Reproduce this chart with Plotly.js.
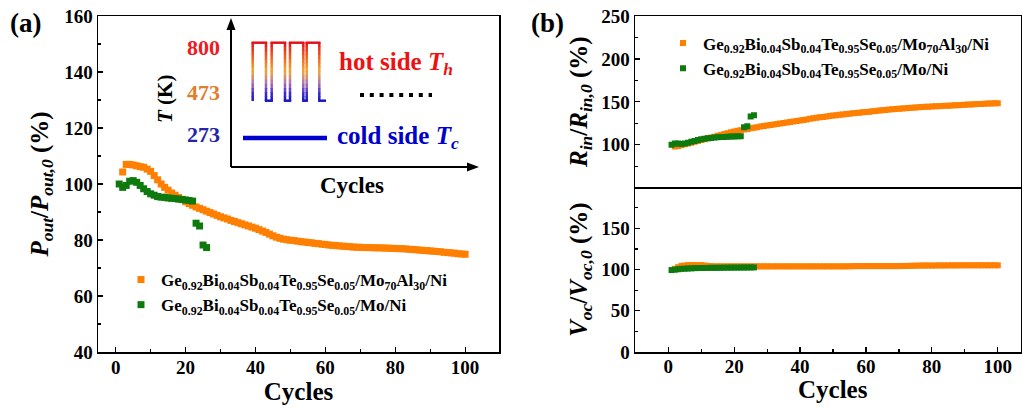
<!DOCTYPE html>
<html><head><meta charset="utf-8">
<script src="https://cdn.plot.ly/plotly-3.0.1.min.js"></script>
<style>html,body{margin:0;padding:0;background:#fff}#chart{width:1022px;height:410px}</style>
</head><body><div id="chart"></div>
<script>
// ---------- data ----------
const cyclesOrange = [2,3,4,5,6,7,8,9,10,11,12,13,14,15,16,17,18,19,20,21,22,23,24,25,26,27,28,29,30,31,32,33,34,35,36,37,38,39,40,41,42,43,44,45,46,47,48,49,50,51,52,53,54,55,56,57,58,59,60,61,62,63,64,65,66,67,68,69,70,71,72,73,74,75,76,77,78,79,80,81,82,83,84,85,86,87,88,89,90,91,92,93,94,95,96,97,98,99,100];
const cyclesGreen = [1,2,3,4,5,6,7,8,9,10,11,12,13,14,15,16,17,18,19,20,21,22,23,24,25,26];

// (a) P_out / P_out,0 (%)
const poutOrange = [104.3,107,107,106.8,106.5,106.2,106,105.3,104.5,103,101.5,100,98.8,97.8,96.8,96,95.2,94.4,93.7,93,92.4,91.8,91.3,90.8,90.3,89.8,89.3,88.8,88.3,87.9,87.5,87,86.6,86.2,85.8,85.4,85,84.6,84.2,83.7,83.2,82.7,82.1,81.5,81,80.6,80.3,80.1,79.9,79.8,79.6,79.4,79.3,79.1,79,78.8,78.7,78.5,78.4,78.2,78.1,78,77.9,77.8,77.7,77.6,77.5,77.4,77.4,77.3,77.3,77.3,77.2,77.2,77.2,77.1,77.1,77,77,76.9,76.9,76.8,76.7,76.6,76.5,76.4,76.3,76.2,76.1,76,75.9,75.8,75.6,75.5,75.4,75.3,75.1,75,74.9];
const poutGreen = [100,98.8,99.5,101,101.2,100.6,99.5,98.3,97.3,96.5,96,95.5,95.3,95.2,95,94.9,94.8,94.6,94.5,94.3,94.1,93.9,86,85,78.2,77.3];

// (b) R_in / R_in,0 (%)
const rinOrange = [98,98.5,99.5,100.5,101.5,102.5,103.5,104.5,105.5,106.5,107.5,108.5,109.5,110.5,111.5,112.5,113.5,114.5,115.5,116.3,117,117.8,118.5,119.2,119.9,120.5,121.2,121.8,122.5,123,123.6,124.2,124.8,125.4,126,126.6,127.2,127.8,128.4,129,129.6,130.2,130.8,131.4,132,132.5,133,133.5,134,134.5,135,135.4,135.8,136.2,136.6,137,137.4,137.8,138.2,138.6,139,139.4,139.8,140.2,140.6,141,141.3,141.6,141.9,142.2,142.5,142.8,143.1,143.4,143.7,144,144.2,144.4,144.6,144.8,145,145.2,145.4,145.6,145.8,146,146.2,146.4,146.6,146.8,147,147.2,147.4,147.6,147.8,148,148.2,148.3,148.5];
const rinGreen = [100,101.5,101.5,101,101.5,102.5,103.5,104.5,105.5,106.5,107,107.5,108,108.5,108.8,109,109.2,109.4,109.6,109.8,110,110,120.5,121.5,133,134.5];

// (b) V_oc / V_oc,0 (%)
const vocOrange = [101,103,104.5,105,105.5,105.5,105.5,105.5,105.5,105,104.5,104.2,104,104,104,104,104,104,104,104,104,104,104,104,104,104,104,104,104,104,104,104,104,104,104,104,104,104,104,104,104,104,104,104,104,104,104,104,104,104,104,104,104,104.1,104.2,104.3,104.3,104.3,104.3,104.3,104.3,104.3,104.3,104.3,104.3,104.3,104.3,104.3,104.3,104.4,104.5,104.6,104.7,104.8,104.9,105,105,105,105,105,105.1,105.1,105.1,105.2,105.2,105.2,105.2,105.3,105.3,105.3,105.3,105.3,105.3,105.3,105.3,105.3,105.3,105.3,105.3];
const vocGreen = [99.5,100,100.5,101,101.2,101.4,101.6,101.8,102,102,102,102.1,102.2,102.2,102.3,102.3,102.4,102.4,102.5,102.5,102.5,102.6,102.6,102.6,102.7,102.7];

const nameOrange = 'Ge<sub>0.92</sub>Bi<sub>0.04</sub>Sb<sub>0.04</sub>Te<sub>0.95</sub>Se<sub>0.05</sub>/Mo<sub>70</sub>Al<sub>30</sub>/Ni';
const nameGreen = 'Ge<sub>0.92</sub>Bi<sub>0.04</sub>Sb<sub>0.04</sub>Te<sub>0.95</sub>Se<sub>0.05</sub>/Mo/Ni';

const tickA_x = [0,20,40,60,80,100];
const tickA_y = [40,60,80,100,120,140,160];
const tickB_top = [100,150,200,250];
const tickB_bot = [0,50,100,150];

// ---------- style ----------
const ORANGE = '#FF7F00', GREEN = '#0E7A0E';
const FONT = 'Liberation Serif';
const W = 1022, H = 410;
const PX = x => x / W, PY = y => 1 - y / H;

function mk(x, y, color, size, xa, ya, name, legend, show) {
  return {x: x, y: y, type: 'scatter', mode: 'markers', name: name,
    xaxis: xa, yaxis: ya, legend: legend, showlegend: show,
    marker: {symbol: 'square', size: size, color: color, line: {width: 0}}};
}
const traces = [
  mk(cyclesOrange, poutOrange, ORANGE, 7, 'x', 'y', nameOrange, 'legend', true),
  mk(cyclesGreen, poutGreen, GREEN, 7, 'x', 'y', nameGreen, 'legend', true),
  mk(cyclesOrange, rinOrange, ORANGE, 6, 'x3', 'y2', nameOrange, 'legend2', true),
  mk(cyclesGreen, rinGreen, GREEN, 6, 'x3', 'y2', nameGreen, 'legend2', true),
  mk(cyclesOrange, vocOrange, ORANGE, 6, 'x2', 'y3', nameOrange, 'legend2', false),
  mk(cyclesGreen, vocGreen, GREEN, 6, 'x2', 'y3', nameGreen, 'legend2', false)
];

const tickfont = {family: FONT, size: 19, color: '#000', weight: 'bold'};
const titlefont = {family: FONT, size: 25, color: '#000', weight: 'bold'};
function ax(extra) {
  return Object.assign({
    showline: true, mirror: true, linecolor: '#000', linewidth: 1.5,
    ticks: 'inside', ticklen: 5, tickwidth: 1.2, tickcolor: '#000',
    showgrid: false, zeroline: false, tickfont: tickfont, automargin: false,
    minor: {ticks: 'inside', ticklen: 3, tickwidth: 1.2, tickcolor: '#000'}
  }, extra);
}
const minorX = {ticks: 'inside', ticklen: 3, tickwidth: 1.2, dtick: 10, tick0: 0};

const xa = [98/W, 499/W];
const xb = [635/W, 1020.5/W];
const yDiv = 1 - 187.3/H;

const legendFont = {family: FONT, size: 17, color: '#000', weight: 'bold'};
const layout = {
  width: W, height: H, margin: {l: 0, r: 0, t: 0, b: 0, autoexpand: false},
  paper_bgcolor: '#fff', plot_bgcolor: '#fff',
  xaxis: ax({domain: xa, anchor: 'y', range: [-5.07, 109.7], tickvals: tickA_x, minor: minorX, ticklabelstandoff: -2,
    title: {text: 'Cycles', font: titlefont, standoff: 2}}),
  yaxis: ax({domain: [58/H, 394/H], anchor: 'x', range: [40, 160], tickvals: tickA_y, minor: {ticks: 'inside', ticklen: 3, tickwidth: 1.2, dtick: 10, tick0: 0},
    title: {text: '<i>P</i><sub><i>out</i></sub>/<i>P</i><sub><i>out,0</i></sub> (%)', font: titlefont, standoff: 8}}),
  xaxis2: ax({domain: xb, anchor: 'y3', mirror: false, range: [-10.1, 106.9], tickvals: tickA_x, minor: minorX, ticklabelstandoff: -3}),
  xaxis3: ax({domain: xb, anchor: 'y2', matches: 'x2', showticklabels: false, ticks: '', minor: {ticks: ''}}),
  yaxis2: ax({domain: [yDiv, 394/H], anchor: 'x3', range: [50.5, 250], tickvals: tickB_top, minor: {ticks: 'inside', ticklen: 3, tickwidth: 1.2, dtick: 25, tick0: 0},
    title: {text: '<i>R</i><sub><i>in</i></sub>/<i>R</i><sub><i>in,0</i></sub> (%)', font: titlefont, standoff: 6}}),
  yaxis3: ax({domain: [58/H, yDiv], anchor: 'x2', range: [0, 200], tickvals: tickB_bot, minor: {ticks: 'inside', ticklen: 3, tickwidth: 1.2, dtick: 25, tick0: 0},
    title: {text: '<i>V</i><sub><i>oc</i></sub>/<i>V</i><sub><i>oc,0</i></sub> (%)', font: titlefont, standoff: 6}}),
  legend: {x: PX(121), y: PY(262), xanchor: 'left', yanchor: 'top', bgcolor: 'rgba(0,0,0,0)',
    font: legendFont, tracegroupgap: 0},
  legend2: {x: PX(663), y: PY(25.5), xanchor: 'left', yanchor: 'top', bgcolor: 'rgba(0,0,0,0)',
    font: legendFont, tracegroupgap: 0},
  shapes: [], annotations: []
};

// ---------- inset schematic (panel a) ----------
const sh = layout.shapes, an = layout.annotations;
function line(x0, y0, x1, y1, color, width, dash) {
  sh.push({type: 'line', xref: 'paper', yref: 'paper', x0: PX(x0), y0: PY(y0), x1: PX(x1), y1: PY(y1),
    line: {color: color, width: width, dash: dash || 'solid'}});
}
function tri(pts) {
  sh.push({type: 'path', xref: 'paper', yref: 'paper', fillcolor: '#000', line: {width: 0},
    path: 'M' + pts.map(p => PX(p[0]) + ',' + PY(p[1])).join('L') + 'Z'});
}
// axes arrows
line(231, 167, 231, 27, '#000', 2);
tri([[231, 18], [226.5, 30], [235.5, 30]]);
line(231, 167, 468, 167, '#000', 2);
tri([[479, 167], [467, 162.5], [467, 171.5]]);

// gradient square wave
const stops = [[0, [225, 20, 30]], [0.25, [240, 95, 30]], [0.5, [242, 170, 50]], [0.72, [170, 110, 190]], [0.88, [60, 40, 200]], [1, [25, 25, 190]]];
function grad(t) {
  for (let i = 1; i < stops.length; i++) {
    if (t <= stops[i][0]) {
      const a = stops[i-1], b = stops[i], f = (t - a[0]) / (b[0] - a[0]);
      const c = a[1].map((v, k) => Math.round(v + (b[1][k] - v) * f));
      return 'rgb(' + c.join(',') + ')';
    }
  }
  return 'rgb(25,25,190)';
}
const wTop = 42.7, wBot = 100.7, N = 14;
const wx = [252.7, 266, 271.7, 285, 290, 303.3, 306.7, 319.3];
wx.forEach(x => {
  for (let i = 0; i < N; i++) {
    const y0 = wTop + (wBot - wTop) * i / N, y1 = wTop + (wBot - wTop) * (i + 1) / N;
    line(x, y0 - 0.3, x, y1 + 0.3, grad((i + 0.5) / N), 2.5);
  }
});
for (let k = 0; k < 8; k += 2) line(wx[k] - 1.2, wTop, wx[k+1] + 1.2, wTop, grad(0), 2.5);
for (let k = 1; k < 7; k += 2) line(wx[k] - 1.2, wBot, wx[k+1] + 1.2, wBot, grad(1), 2.5);
line(319.3 - 1.2, wBot, 326, wBot, grad(1), 2.5);

// cold side line and dots
line(243, 138, 327, 138, '#0000CC', 4.5);
line(360, 95, 432, 95, '#000', 4, '4px,5.8px');

function txt(x, y, text, color, size, extra) {
  an.push(Object.assign({xref: 'paper', yref: 'paper', x: PX(x), y: PY(y), text: text, showarrow: false,
    xanchor: 'center', yanchor: 'middle', font: {family: FONT, size: size, color: color, weight: 'bold'}}, extra || {}));
}
txt(203.7, 47.7, '800', '#EE1C24', 22);
txt(203.7, 92.7, '473', '#E27D2C', 22);
txt(203.7, 134.3, '273', '#2424A8', 22);
txt(165, 99, '<i>T</i> (K)', '#000', 21, {textangle: -90});
txt(396, 63, 'hot side <i>T</i><sub><i>h</i></sub>', '#EE1111', 25);
txt(397.5, 137, 'cold side <i>T</i><sub><i>c</i></sub>', '#0000CC', 25);
txt(352, 186, 'Cycles', '#000', 23);
// x-axis title of panel (b)
txt(833, 389, 'Cycles', '#000', 25);
// panel labels
txt(25.5, 23, '(a)', '#000', 27);
txt(547, 23, '(b)', '#000', 27);

Plotly.newPlot('chart', traces, layout, {displayModeBar: false, staticPlot: true});
</script>
</body></html>
